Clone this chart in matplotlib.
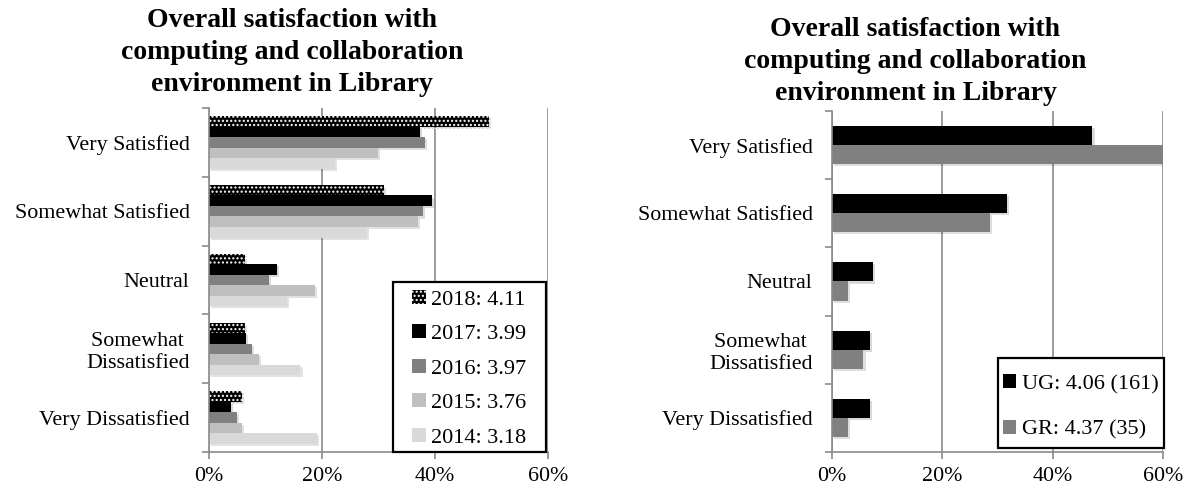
import numpy as np
import matplotlib
matplotlib.use('Agg')
import matplotlib.pyplot as plt
import matplotlib.patheffects as pe
from matplotlib.patches import Rectangle
from matplotlib.ticker import FuncFormatter, FixedLocator

plt.rcParams['font.family'] = ['Liberation Serif', 'DejaVu Serif']

categories = ['Very Satisfied', 'Somewhat Satisfied', 'Neutral',
              'Somewhat \nDissatisfied', 'Very Dissatisfied']

# left chart: percent by year
years = ['2018: 4.11', '2017: 3.99', '2016: 3.97', '2015: 3.76', '2014: 3.18']
y2018 = [49.5, 31.0, 6.4, 6.4, 5.9]
y2017 = [37.3, 39.4, 12.1, 6.6, 3.9]
y2016 = [38.3, 37.8, 10.6, 7.6, 5.0]
y2015 = [29.9, 37.0, 18.8, 8.8, 5.8]
y2014 = [22.3, 28.0, 13.8, 16.2, 19.1]

# right chart: percent by level
levels = ['UG: 4.06 (161)', 'GR: 4.37 (35)']
ug = [47.2, 31.7, 7.5, 6.8, 6.8]
gr = [60.0, 28.6, 2.9, 5.7, 2.9]

title = 'Overall satisfaction with\ncomputing and collaboration\nenvironment in Library'
grid_c = '#8a8a8a'
shadow = [pe.SimplePatchShadow(offset=(1.5, -1.5), alpha=0.15), pe.Normal()]

fig = plt.figure(figsize=(11.92, 4.91), dpi=100)
ax1 = fig.add_axes([0.1753, 0.0794, 0.2844, 0.7006])
ax2 = fig.add_axes([0.698, 0.0794, 0.2777, 0.6946])


def style_axes(ax):
    ax.set_xlim(0, 60)
    ax.set_ylim(-0.5, 4.5)
    ax.xaxis.set_major_locator(FixedLocator([0, 20, 40, 60]))
    ax.xaxis.set_major_formatter(FuncFormatter(lambda v, p: '%d%%' % v))
    ax.set_yticks(np.arange(5)[::-1])
    ax.set_yticklabels(categories)
    ax.set_yticks(np.arange(-0.5, 5, 1), minor=True)
    ax.tick_params(axis='y', which='major', length=0, pad=14, labelsize=15.8)
    ax.tick_params(axis='y', which='minor', length=5, width=1.2, color=grid_c)
    ax.tick_params(axis='x', length=5, width=1.2, color=grid_c, labelsize=15.8, pad=6)
    for s in ['top', 'right']:
        ax.spines[s].set_visible(False)
    for s in ['left', 'bottom']:
        ax.spines[s].set_color(grid_c)
        ax.spines[s].set_linewidth(1.2)
    ax.grid(axis='x', color=grid_c, linewidth=1.2)
    ax.set_axisbelow(True)


def legend_box(ax, x0, y0, x1, y1, spacing, dy=0.0):
    ax.add_patch(Rectangle((x0, y0), x1 - x0, y1 - y0, transform=ax.transAxes,
                           facecolor='white', edgecolor='black', linewidth=1.6,
                           clip_on=False, zorder=5))
    leg = ax.legend(loc='center', bbox_to_anchor=((x0 + x1) / 2, (y0 + y1) / 2 + dy),
                    fontsize=16, frameon=False, handlelength=0.6, handleheight=0.6,
                    handletextpad=0.25, labelspacing=spacing, borderpad=0,
                    borderaxespad=0)
    leg.set_zorder(6)
    for hnd in leg.legend_handles:
        hnd.set_path_effects([])


pos = np.arange(5)[::-1]

# left chart
h = 0.153
series = [y2018, y2017, y2016, y2015, y2014]
colors = ['black', 'black', '#808080', '#bfbfbf', '#d9d9d9']
for i, vals in enumerate(series):
    if i == 0:
        b = ax1.barh(pos + (2 - i) * h, vals, height=h, color='black',
                     edgecolor='white', hatch='....', linewidth=0, label=years[i])
    else:
        b = ax1.barh(pos + (2 - i) * h, vals, height=h, color=colors[i],
                     linewidth=0, label=years[i])
    for p in b:
        p.set_path_effects(shadow)
style_axes(ax1)
legend_box(ax1, 0.543, 0.0, 0.994, 0.494, 0.66, dy=-0.005)

# right chart
h2 = 0.28
for vals, c, lab, off in [(ug, 'black', levels[0], h2 / 2), (gr, '#808080', levels[1], -h2 / 2)]:
    b = ax2.barh(pos + off, vals, height=h2, color=c, linewidth=0, label=lab)
    for p in b:
        p.set_path_effects(shadow)
style_axes(ax2)
legend_box(ax2, 0.50, 0.012, 1.003, 0.276, 1.15, dy=-0.012)

fig.text(0.245, 0.983, title, ha='center', va='top', fontsize=20,
         fontweight='bold', linespacing=1.36)
fig.text(0.768, 0.965, title, ha='center', va='top', fontsize=20,
         fontweight='bold', linespacing=1.36)

fig.savefig('out.png', dpi=100)
